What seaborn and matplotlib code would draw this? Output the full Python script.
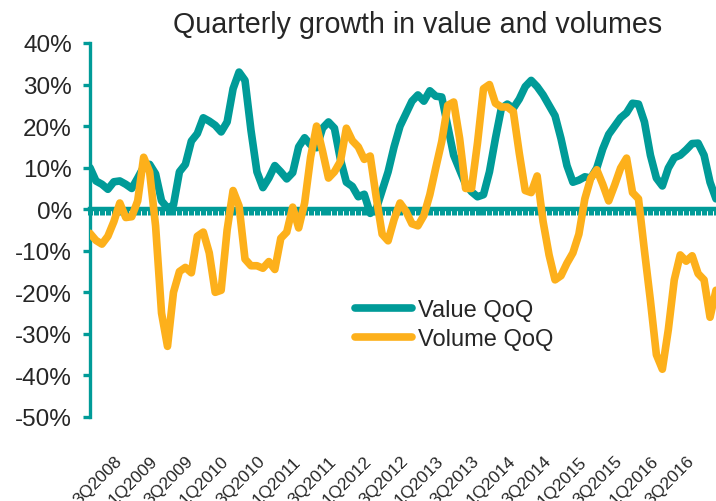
import numpy as np
import pandas as pd
import matplotlib
matplotlib.use("Agg")
import matplotlib.pyplot as plt
import seaborn as sns

# Monthly quarter-on-quarter growth (%)
value_qoq = [10.0, 6.8, 6.0, 4.8, 6.6, 6.8, 6.0, 5.0, 7.5, 10.2,
             10.8, 8.5, 2.0, 0.3, 1.0, 9.0, 10.8, 16.4, 18.2, 22.0,
             21.2, 20.2, 18.6, 21.0, 29.0, 33.0, 31.0, 19.0, 9.0, 5.2,
             7.5, 10.5, 9.0, 7.3, 8.8, 15.0, 17.2, 15.5, 14.8, 19.5,
             21.0, 19.5, 12.0, 6.5, 5.5, 3.0, 3.6, -1.0, 0.0, 4.5,
             9.0, 15.0, 20.0, 23.0, 26.0, 27.5, 26.0, 28.5, 27.2, 27.0,
             20.0, 13.0, 9.5, 6.0, 4.2, 3.0, 3.5, 9.0, 17.0, 24.3,
             25.3, 24.3, 26.5, 29.5, 31.0, 29.5, 27.5, 25.0, 22.5, 17.0,
             10.5, 6.5, 7.0, 7.8, 7.5, 9.9, 14.5, 18.0, 20.0, 22.0,
             23.2, 25.5, 25.3, 21.0, 13.0, 7.5, 5.6, 9.9, 12.4, 13.0,
             14.3, 15.8, 15.9, 13.0, 6.5, 2.5]

volume_qoq = [-5.8, -7.5, -8.4, -6.5, -3.0, 1.5, -2.0, -1.8, 2.0, 12.5,
              9.0, -4.0, -25.0, -33.0, -20.0, -15.0, -14.0, -15.3, -6.5, -5.5,
              -10.5, -20.0, -19.5, -5.0, 4.5, 0.8, -12.0, -13.6, -13.6, -14.2,
              -12.6, -14.5, -7.0, -5.5, 0.5, -4.5, 1.5, 12.5, 20.0, 14.0,
              7.5, 9.0, 11.5, 19.5, 16.5, 15.0, 12.0, 12.8, 3.0, -6.0,
              -7.6, -2.5, 1.5, -0.5, -3.5, -4.0, -1.5, 3.5, 10.0, 16.3,
              25.0, 25.8, 17.0, 5.0, 5.0, 16.0, 29.0, 30.0, 25.5, 24.6,
              24.6, 23.5, 13.5, 4.5, 4.0, 8.0, -3.0, -11.0, -17.0, -16.0,
              -13.0, -10.5, -6.0, 2.5, 7.5, 9.5, 6.0, 2.0, 5.8, 9.9,
              12.3, 4.0, 2.5, -10.0, -22.0, -35.0, -38.5, -29.0, -17.0, -11.0,
              -12.5, -11.2, -15.5, -17.0, -26.0, -19.5]

quarter_labels = ["3Q2008", "1Q2009", "3Q2009", "1Q2010", "3Q2010", "1Q2011",
                  "3Q2011", "1Q2012", "3Q2012", "1Q2013", "3Q2013", "1Q2014",
                  "3Q2014", "1Q2015", "3Q2015", "1Q2016", "3Q2016"]
label_months = list(range(4, 4 + 6 * len(quarter_labels), 6))

teal = "#009B98"
orange = "#FDB01B"

sns.set_style("white")
plt.rcParams["font.family"] = ["Liberation Sans", "DejaVu Sans"]

months = np.arange(len(value_qoq))
df = pd.DataFrame({
    "month": np.concatenate([months, months]),
    "growth": value_qoq + volume_qoq,
    "series": ["Value QoQ"] * len(months) + ["Volume QoQ"] * len(months),
})

fig = plt.figure(figsize=(7.16, 5.02), dpi=100)
ax = fig.add_axes([90 / 716, 1 - 418 / 502, 626 / 716, 374 / 502])

sns.lineplot(data=df, x="month", y="growth", hue="series",
             palette=[teal, orange], linewidth=5.5, ax=ax, zorder=3,
             legend=False)
for line in ax.lines:
    line.set_solid_capstyle("round")
    line.set_solid_joinstyle("round")

ax.set_xlim(0, len(months) - 1)
ax.set_ylim(-50, 40)
ax.set_yticks(range(-50, 41, 10))
ax.set_yticklabels([f"{v}%" for v in range(-50, 41, 10)], fontsize=17.5)
ax.set_xlabel("")
ax.set_ylabel("")

# axis lines
for side in ["top", "right"]:
    ax.spines[side].set_visible(False)
ax.spines["left"].set_color(teal)
ax.spines["left"].set_linewidth(2.4)
ax.spines["bottom"].set_position(("data", 0))
ax.spines["bottom"].set_color(teal)
ax.spines["bottom"].set_linewidth(3.2)
ax.tick_params(axis="y", direction="out", length=5, width=2.4, color=teal,
               pad=8, left=True)
ax.set_xticks(months)
ax.tick_params(axis="x", direction="out", length=4, width=3.6, color=teal,
               labelbottom=False, bottom=True)

# quarter labels at the bottom of the chart
sec = ax.secondary_xaxis("bottom")
sec.set_xticks(label_months)
sec.set_xticklabels(quarter_labels, rotation=45, ha="right",
                    rotation_mode="anchor", fontsize=12.5)
sec.tick_params(length=0, pad=26)
sec.spines["bottom"].set_visible(False)

handles = [plt.Line2D([], [], color=teal, lw=5.5, solid_capstyle="round"),
           plt.Line2D([], [], color=orange, lw=5.5, solid_capstyle="round")]
fig.legend(handles, ["Value QoQ", "Volume QoQ"], loc="upper left",
           bbox_to_anchor=(355 / 716, 1 - 300 / 502), frameon=False,
           fontsize=17, handlelength=2.4, handletextpad=0.25,
           labelspacing=0.3, borderpad=0, borderaxespad=0)

fig.text(418 / 716, 1 - 33 / 502, "Quarterly growth in value and volumes",
         ha="center", va="baseline", fontsize=20.6)

fig.savefig("out.png", dpi=100)
